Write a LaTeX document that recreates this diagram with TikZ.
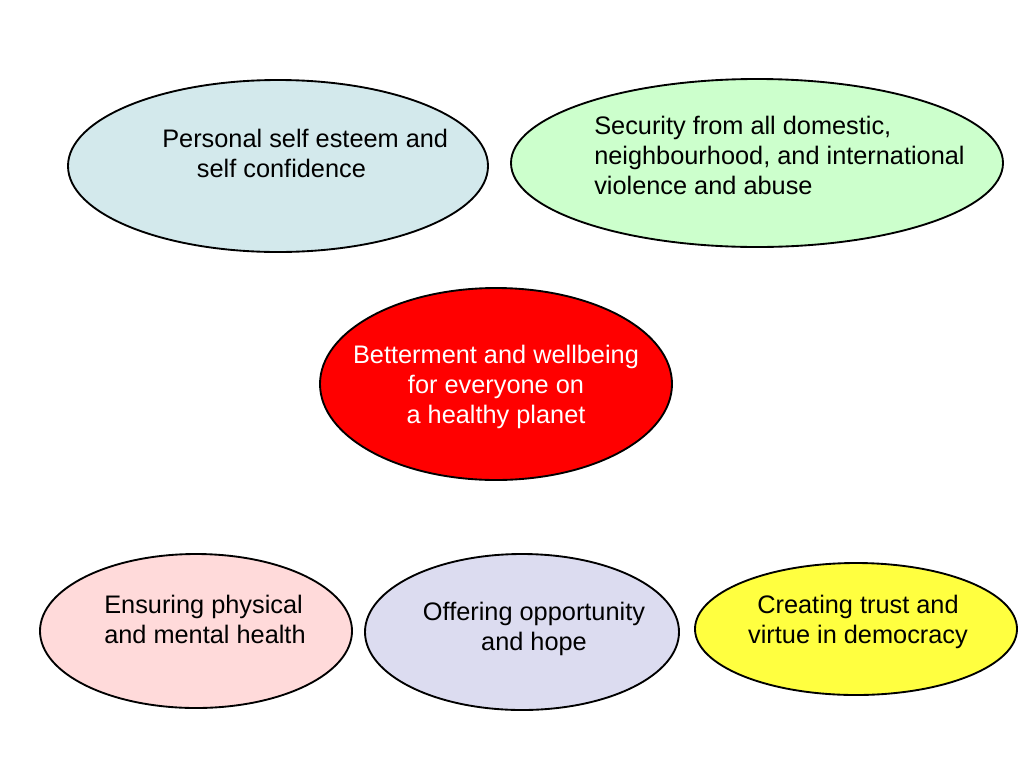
\documentclass[tikz,border=0pt]{standalone}
\usepackage{fontspec}
\setmainfont{Liberation Sans}
\usetikzlibrary{shapes.geometric}
\definecolor{cA}{HTML}{D3E9EC}
\definecolor{cB}{HTML}{CCFFCC}
\definecolor{cC}{HTML}{FF0000}
\definecolor{cD}{HTML}{FFDADA}
\definecolor{cE}{HTML}{DCDCF0}
\definecolor{cF}{HTML}{FFFF40}
\tikzset{
  oval/.style={ellipse, draw=black, line width=1.4pt, inner sep=0pt},
  lbl/.style={inner sep=0pt, font=\fontsize{19}{22.5}\selectfont, text=black}
}
\begin{document}
\begin{tikzpicture}[x=0.75pt,y=-0.75pt]
\useasboundingbox[fill=white] (0,0) rectangle (1024,768);
\node[oval, fill=cA, minimum width=420*0.75pt, minimum height=172*0.75pt] (a) at (278,166) {};
\node[oval, fill=cB, minimum width=492*0.75pt, minimum height=168*0.75pt] (b) at (757,163) {};
\node[oval, fill=cC, minimum width=352*0.75pt, minimum height=192*0.75pt] (c) at (496,384) {};
\node[oval, fill=cD, minimum width=312*0.75pt, minimum height=154*0.75pt] (d) at (196,631) {};
\node[oval, fill=cE, minimum width=314*0.75pt, minimum height=156*0.75pt] (e) at (522,632) {};
\node[oval, fill=cF, minimum width=322*0.75pt, minimum height=132*0.75pt] (f) at (856,629) {};
\node[lbl, anchor=west, align=left] (ta) at (162,153) {Personal self esteem and\\\hspace*{26pt}self confidence};
\node[lbl, anchor=west, align=left] (tb) at (594,155) {Security from all domestic,\\neighbourhood, and international\\violence and abuse};
\node[lbl, align=center, text=white] (tc) at (496,387) {Betterment and wellbeing\\for everyone on\\a healthy planet};
\node[lbl, anchor=west, align=left] (td) at (104,619) {Ensuring physical\\and mental health};
\node[lbl, align=center] (te) at (534,629) {Offering opportunity\\and hope};
\node[lbl, align=center] (tf) at (858,622) {Creating trust and\\virtue in democracy};
\end{tikzpicture}
\end{document}
